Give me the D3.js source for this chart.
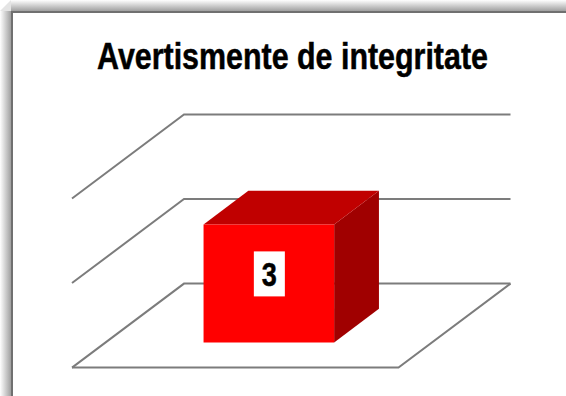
<!DOCTYPE html>
<html><head><meta charset="utf-8">
<script src="https://cdn.jsdelivr.net/npm/d3@7/dist/d3.min.js"></script>
<style>html,body{margin:0;padding:0;background:#fff;overflow:hidden}svg{display:block}</style>
</head><body><svg id="c" width="566" height="396"></svg>
<script>
const chartTitle = "Avertismente de integritate";
const categories = ["Avertismente"];
const values = [3];
const gridTicks = [0, 2.15, 4.3];

const svg = d3.select("#c");
const defs = svg.append("defs");
const gl = defs.append("linearGradient").attr("id","sl").attr("x1",0).attr("x2",1).attr("y1",0).attr("y2",0);
gl.append("stop").attr("offset",0).attr("stop-color","#ffffff");
gl.append("stop").attr("offset",1).attr("stop-color","#a0a0a0");
const gt = defs.append("linearGradient").attr("id","st").attr("x1",0).attr("x2",0).attr("y1",0).attr("y2",1);
gt.append("stop").attr("offset",0).attr("stop-color","#ffffff");
gt.append("stop").attr("offset",1).attr("stop-color","#a0a0a0");

svg.append("rect").attr("x",0).attr("y",11).attr("width",11).attr("height",385).attr("fill","url(#sl)");
svg.append("rect").attr("x",11).attr("y",0).attr("width",555).attr("height",11).attr("fill","url(#st)");
svg.append("path").attr("d","M0,11L11,11L11,0Z").attr("fill","#e4e4e4");
svg.append("path").attr("d","M12,396V12H566").attr("fill","none").attr("stroke","#707070").attr("stroke-width",2);

svg.append("text").attr("transform","translate(292.5,68.5) scale(0.822,1)").attr("text-anchor","middle")
  .attr("font-family","'Liberation Sans',sans-serif")
  .attr("font-weight","bold").attr("font-size",37).attr("fill","#000")
  .attr("stroke","#000").attr("stroke-width",0.5).text(chartTitle);

// projection: floor fraction + depth fraction + value
const fx = d3.scaleLinear().domain([0,1]).range([72,398.5]);
const dx = d3.scaleLinear().domain([0,1]).range([0,112]);
const dy = d3.scaleLinear().domain([0,1]).range([367.6,283.6]);
const vy = d3.scaleLinear().domain([0,3]).range([0,118]);
const P = (x,z,v)=>[fx(x)+dx(z), dy(z)-vy(v)];
const band = d3.scaleBand().domain(categories).range([0,1]).padding(3/7);
const line = d3.line();

const grid = svg.append("g").attr("fill","none").attr("stroke","#7c7c7c").attr("stroke-width",2);
gridTicks.forEach(t=>{
  grid.append("path").attr("d",line([P(0,0,t),P(0,1,t),P(1,1,t)]));
});
grid.append("path").attr("d",line([P(0,0,0),P(1,0,0),P(1,1,0)]));

categories.forEach((c,i)=>{
  const x0=band(c), x1=x0+band.bandwidth(), z0=band(c), z1=z0+band.bandwidth(), v=values[i];
  const g=svg.append("g");
  g.append("path").attr("fill","#a00000").attr("d",line([P(x1,z0,0),P(x1,z1,0),P(x1,z1,v),P(x1,z0,v)])+"Z");
  g.append("path").attr("fill","#c00000").attr("d",line([P(x0,z0,v),P(x1,z0,v),P(x1,z1,v),P(x0,z1,v)])+"Z");
  g.append("path").attr("fill","#ff0000").attr("d",line([P(x0,z0,0),P(x1,z0,0),P(x1,z0,v),P(x0,z0,v)])+"Z");
  const [lx0,ly0]=P(x0,z0,0),[lx1,ly1]=P(x1,z0,v);
  const cx=(lx0+lx1)/2, cy=(ly0+ly1)/2-9.5;
  g.append("rect").attr("x",cx-15).attr("y",cy-22.5).attr("width",31).attr("height",45).attr("fill","#fff");
  g.append("text").attr("transform",`translate(${cx+.5},${cy+12.5}) scale(0.82,1)`).attr("text-anchor","middle")
   .attr("font-family","'Liberation Sans',sans-serif")
   .attr("font-weight","bold").attr("font-size",33).attr("fill","#000")
   .attr("stroke","#000").attr("stroke-width",0.5).text(v);
});
</script></body></html>
